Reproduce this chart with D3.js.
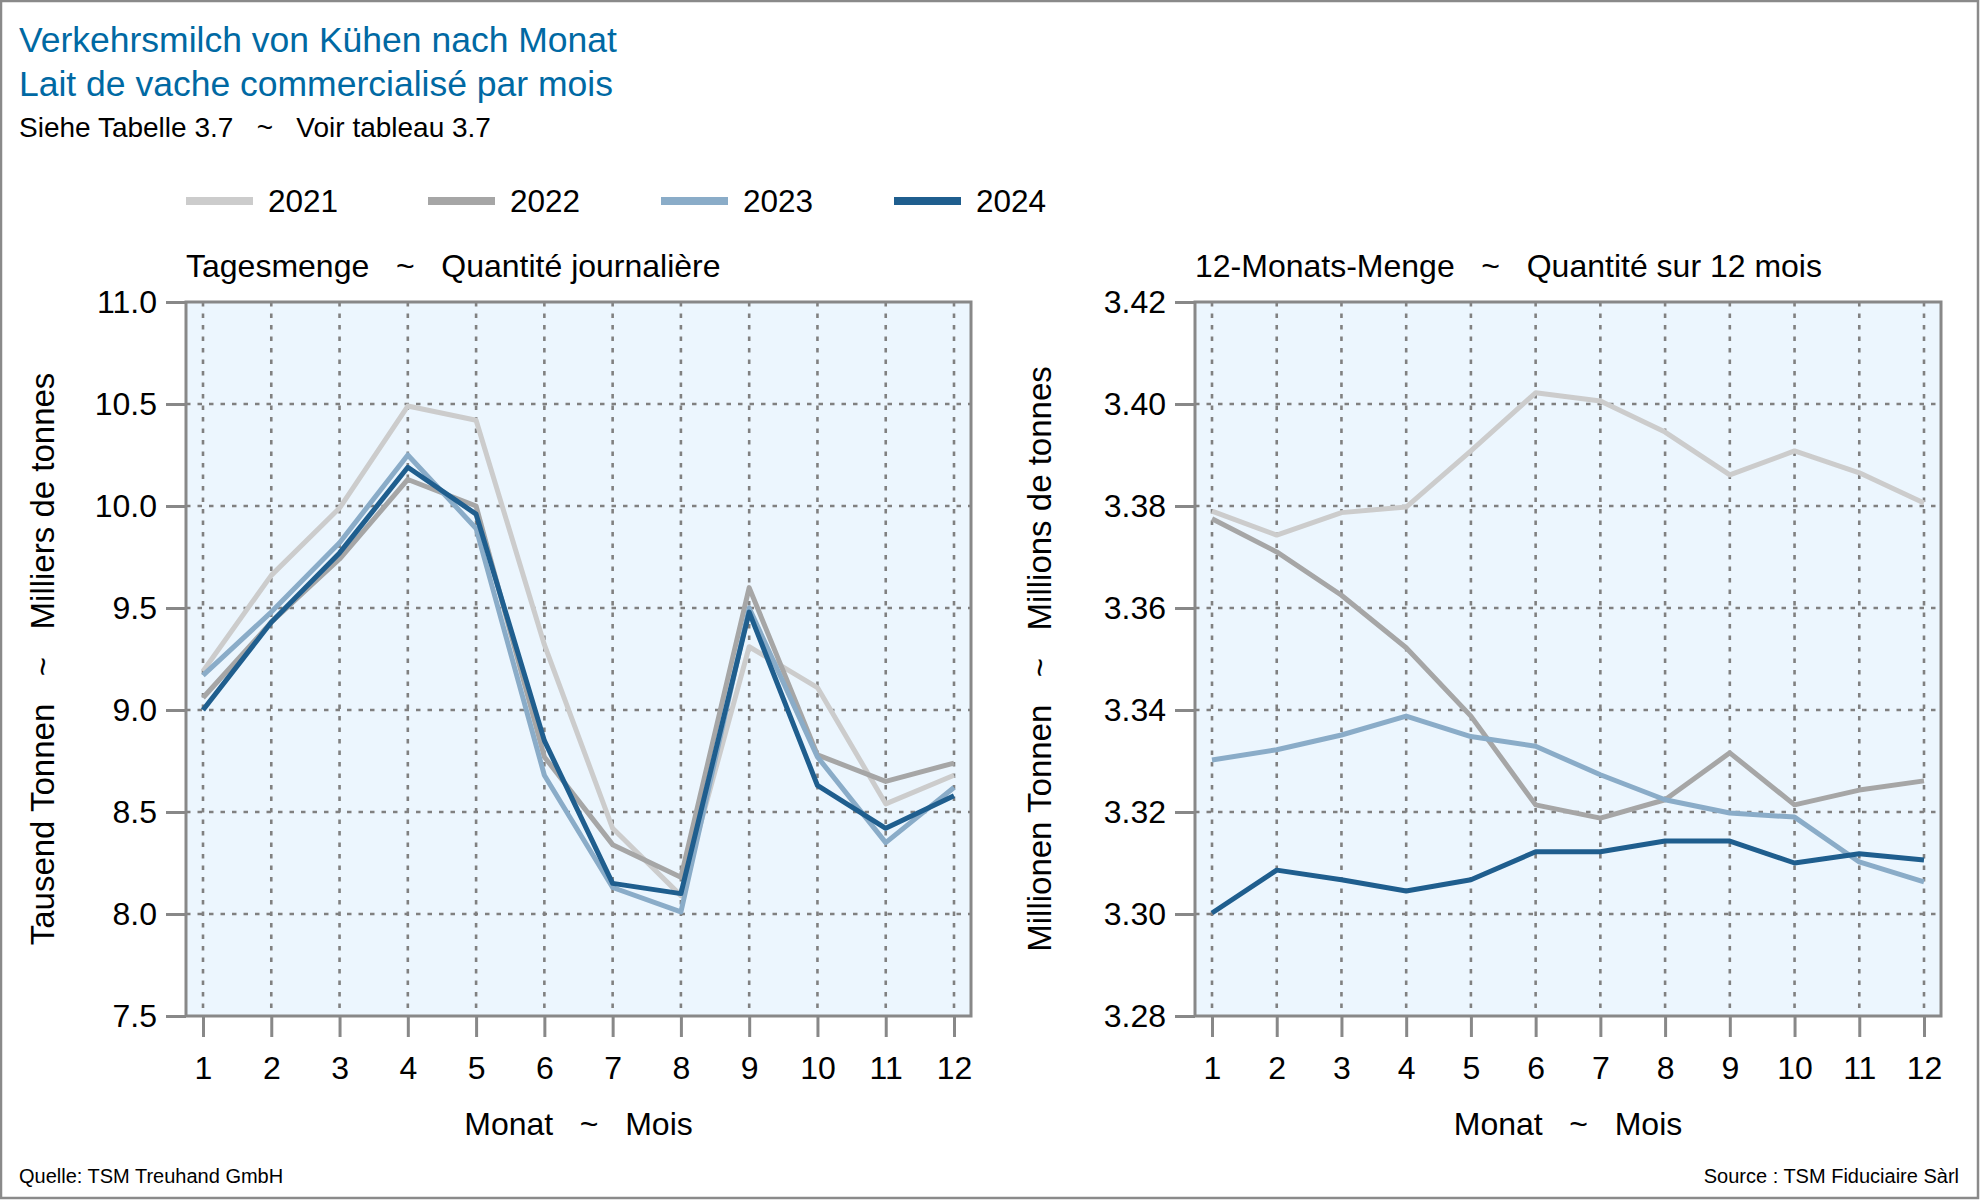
<!DOCTYPE html>
<html><head><meta charset="utf-8">
<script src="https://cdn.jsdelivr.net/npm/d3@7"></script>
<style>
html,body{margin:0;padding:0;background:#fff;}
svg text{font-family:"Liberation Sans",Arial,sans-serif;white-space:pre;}
</style></head>
<body>
<svg id="chart" width="1980" height="1200"></svg>
<script>
const months = [1,2,3,4,5,6,7,8,9,10,11,12];
const years = ["2021","2022","2023","2024"];
const colors = ["#CCCCCC","#A6A6A6","#8AACC8","#1F5E8E"];

// Tagesmenge (Tausend Tonnen)
const daily2021 = [9.19, 9.66, 9.99, 10.49, 10.42, 9.32, 8.42, 8.09, 9.31, 9.11, 8.54, 8.68];
const daily2022 = [9.06, 9.43, 9.74, 10.13, 10.00, 8.77, 8.34, 8.18, 9.60, 8.78, 8.65, 8.74];
const daily2023 = [9.17, 9.48, 9.82, 10.25, 9.89, 8.68, 8.13, 8.01, 9.50, 8.77, 8.35, 8.62];
const daily2024 = [9.00, 9.43, 9.77, 10.19, 9.96, 8.85, 8.15, 8.10, 9.48, 8.63, 8.42, 8.58];

// 12-Monats-Menge (Millionen Tonnen)
const roll2021 = [3.3790, 3.3743, 3.3787, 3.3798, 3.3908, 3.4022, 3.4006, 3.3945, 3.3861, 3.3908, 3.3865, 3.3806];
const roll2022 = [3.3775, 3.3710, 3.3625, 3.3522, 3.3388, 3.3214, 3.3188, 3.3224, 3.3316, 3.3214, 3.3243, 3.3261];
const roll2023 = [3.3302, 3.3322, 3.3351, 3.3388, 3.3348, 3.3329, 3.3273, 3.3224, 3.3198, 3.3190, 3.3102, 3.3063];
const roll2024 = [3.3002, 3.3086, 3.3067, 3.3045, 3.3067, 3.3122, 3.3122, 3.3143, 3.3143, 3.3100, 3.3118, 3.3106];

const dailyTicks = [7.5, 8.0, 8.5, 9.0, 9.5, 10.0, 10.5, 11.0];
const rollTicks = [3.28, 3.30, 3.32, 3.34, 3.36, 3.38, 3.40, 3.42];

const svg = d3.select("#chart");
const GRID = "#808080", FRAME = "#888888";

// outer border
svg.append("rect").attr("x",1).attr("y",1).attr("width",1977).attr("height",1197)
  .attr("fill","none").attr("stroke","#8a8a8a").attr("stroke-width",2.5);

// titles
svg.append("text").attr("x",19).attr("y",52).attr("font-size",35.5).attr("fill","#0069A3")
  .text("Verkehrsmilch von Kühen nach Monat");
svg.append("text").attr("x",19).attr("y",96).attr("font-size",35.5).attr("fill","#0069A3")
  .text("Lait de vache commercialisé par mois");
svg.append("text").attr("x",19).attr("y",137).attr("font-size",28).attr("fill","#000")
  .text("Siehe Tabelle 3.7   ~   Voir tableau 3.7");

// legend
const legX = [186, 428, 661, 894];
years.forEach((y,i)=>{
  svg.append("line").attr("x1",legX[i]).attr("x2",legX[i]+67).attr("y1",201).attr("y2",201)
    .attr("stroke",colors[i]).attr("stroke-width",8);
  svg.append("text").attr("x",legX[i]+82).attr("y",212).attr("font-size",31.5).text(y);
});

// sources
svg.append("text").attr("x",19).attr("y",1183).attr("font-size",20).text("Quelle: TSM Treuhand GmbH");
svg.append("text").attr("x",1959).attr("y",1183).attr("font-size",20).attr("text-anchor","end").text("Source : TSM Fiduciaire Sàrl");

function panel(opts){
  const {x0,x1,y0,y1,domain,ticks,fmt,series,title,ytitle,ytitleX} = opts;
  const g = svg.append("g");
  const x = d3.scaleLinear().domain([1,12]).range([x0+17, x1-17]);
  const y = d3.scaleLinear().domain(domain).range([y1, y0]);

  g.append("rect").attr("x",x0).attr("y",y0).attr("width",x1-x0).attr("height",y1-y0)
    .attr("fill","#ECF6FE");

  // grid
  g.append("g").selectAll("line").data(ticks.filter(t=>t>domain[0] && t<domain[1])).join("line")
    .attr("x1",x0).attr("x2",x1).attr("y1",d=>y(d)).attr("y2",d=>y(d))
    .attr("stroke",GRID).attr("stroke-width",2.6).attr("stroke-dasharray","4.5,7");
  g.append("g").selectAll("line").data(months).join("line")
    .attr("x1",d=>x(d)).attr("x2",d=>x(d)).attr("y1",y0).attr("y2",y1)
    .attr("stroke",GRID).attr("stroke-width",2.6).attr("stroke-dasharray","4.5,7");

  // lines
  const line = d3.line().x((d,i)=>x(months[i])).y(d=>y(d));
  series.forEach((s,i)=>{
    g.append("path").datum(s).attr("d",line).attr("fill","none")
      .attr("stroke",colors[i]).attr("stroke-width",5).attr("stroke-linejoin","round");
  });

  // frame
  g.append("rect").attr("x",x0).attr("y",y0).attr("width",x1-x0).attr("height",y1-y0)
    .attr("fill","none").attr("stroke",FRAME).attr("stroke-width",3);

  // y axis
  const ya = g.append("g").attr("transform",`translate(${x0},0)`)
    .call(d3.axisLeft(y).tickValues(ticks).tickFormat(d3.format(fmt)).tickSize(20).tickPadding(9));
  ya.select(".domain").remove();
  ya.selectAll(".tick line").attr("stroke",FRAME).attr("stroke-width",3);
  ya.selectAll(".tick text").attr("font-size",32).attr("fill","#000")
    .attr("font-family","Liberation Sans, Arial, sans-serif");

  // x axis
  const xa = g.append("g").attr("transform",`translate(0,${y1})`)
    .call(d3.axisBottom(x).tickValues(months).tickFormat(d3.format("d")).tickSize(21).tickPadding(19));
  xa.select(".domain").remove();
  xa.selectAll(".tick line").attr("stroke",FRAME).attr("stroke-width",3);
  xa.selectAll(".tick text").attr("font-size",32).attr("fill","#000")
    .attr("font-family","Liberation Sans, Arial, sans-serif");

  // panel title
  g.append("text").attr("x",x0).attr("y",277).attr("font-size",32).text(title);
  // x title
  g.append("text").attr("x",(x0+x1)/2).attr("y",1135).attr("font-size",32).attr("text-anchor","middle")
    .text("Monat   ~   Mois");
  // y title
  g.append("text").attr("transform",`translate(${ytitleX},${(y0+y1)/2}) rotate(-90)`)
    .attr("text-anchor","middle").attr("font-size",33).attr("dy","0.35em").text(ytitle);
}

panel({x0:186,x1:971,y0:302,y1:1016,domain:[7.5,11.0],ticks:dailyTicks,fmt:".1f",
  series:[daily2021,daily2022,daily2023,daily2024],
  title:"Tagesmenge   ~   Quantité journalière",
  ytitle:"Tausend Tonnen   ~   Milliers de tonnes", ytitleX:42});

panel({x0:1195,x1:1941,y0:302,y1:1016,domain:[3.28,3.42],ticks:rollTicks,fmt:".2f",
  series:[roll2021,roll2022,roll2023,roll2024],
  title:"12-Monats-Menge   ~   Quantité sur 12 mois",
  ytitle:"Millionen Tonnen   ~   Millions de tonnes", ytitleX:1039});
</script>
</body></html>
